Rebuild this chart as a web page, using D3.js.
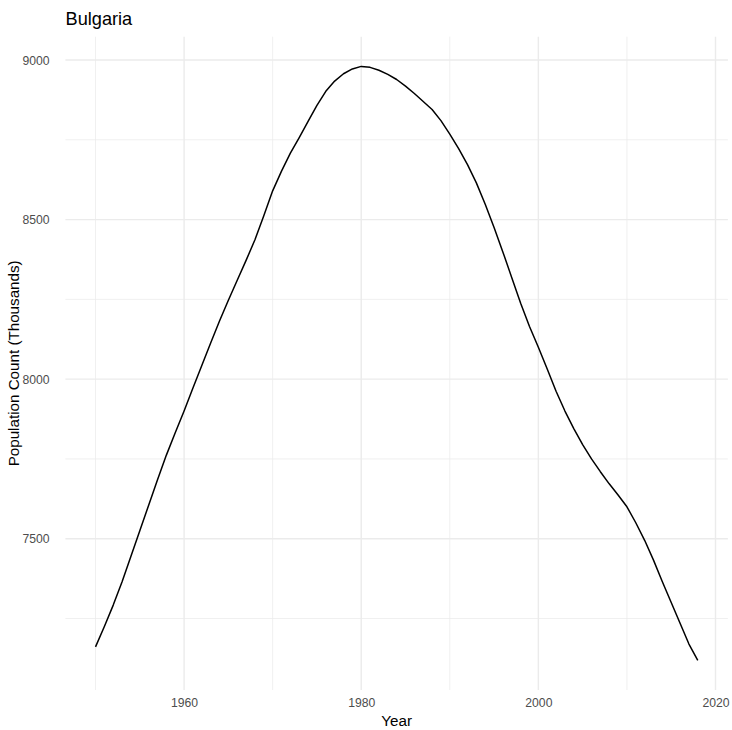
<!DOCTYPE html>
<html>
<head>
<meta charset="utf-8">
<script src="https://cdn.jsdelivr.net/npm/d3@7"></script>
<style>
  body { margin: 0; background: #fff; }
  svg { display: block; font-family: "Liberation Sans", Arial, Helvetica, sans-serif; }
</style>
</head>
<body>
<svg id="chart" width="732" height="730"></svg>
<script>
const title = "Bulgaria";
const xLabel = "Year";
const yLabel = "Population Count (Thousands)";

const years = d3.range(1950, 2019);
const population = [
  7161, 7225, 7292, 7365, 7445, 7525, 7605, 7685, 7762, 7832,
  7900, 7972, 8043, 8113, 8182, 8247, 8310, 8372, 8437, 8512,
  8590, 8652, 8708, 8757, 8808, 8858, 8902, 8934, 8957, 8972,
  8980, 8977, 8968, 8955, 8939, 8918, 8895, 8870, 8845, 8810,
  8768, 8722, 8672, 8615, 8548, 8475, 8398, 8318, 8238, 8165,
  8100, 8032, 7962, 7900, 7845, 7795, 7750, 7710, 7672, 7637,
  7600, 7550, 7495, 7433, 7365, 7300, 7235, 7170, 7119
];

const xTicks = [1960, 1980, 2000, 2020];
const xMinor = [1950, 1970, 1990, 2010];
const yTicks = [7500, 8000, 8500, 9000];
const yMinor = [7250, 7750, 8250, 8750];

(function () {
const data = years.map((yr, i) => ({ year: yr, value: population[i] }));

const svg = d3.select("#chart");
const pLeft = 65.4, pRight = 727.9, pTop = 36.7, pBottom = 690;

const xExt = d3.extent(years);
const xPad = (xExt[1] - xExt[0]) * 0.05;
const x = d3.scaleLinear().domain([xExt[0] - xPad, xExt[1] + xPad]).range([pLeft, pRight]);

const yExt = d3.extent(population);
const yPad = (yExt[1] - yExt[0]) * 0.05;
const y = d3.scaleLinear().domain([yExt[0] - yPad, yExt[1] + yPad]).range([pBottom, pTop]);

const grid = svg.append("g");
grid.selectAll("line.ymin").data(yMinor).enter().append("line")
  .attr("x1", pLeft).attr("x2", pRight)
  .attr("y1", d => y(d)).attr("y2", d => y(d))
  .attr("stroke", "#EBEBEB").attr("stroke-width", 0.75);
grid.selectAll("line.xmin").data(xMinor).enter().append("line")
  .attr("y1", pTop).attr("y2", pBottom)
  .attr("x1", d => x(d)).attr("x2", d => x(d))
  .attr("stroke", "#EBEBEB").attr("stroke-width", 0.75);
grid.selectAll("line.ymaj").data(yTicks).enter().append("line")
  .attr("x1", pLeft).attr("x2", pRight)
  .attr("y1", d => y(d)).attr("y2", d => y(d))
  .attr("stroke", "#EBEBEB").attr("stroke-width", 1.4);
grid.selectAll("line.xmaj").data(xTicks).enter().append("line")
  .attr("y1", pTop).attr("y2", pBottom)
  .attr("x1", d => x(d)).attr("x2", d => x(d))
  .attr("stroke", "#EBEBEB").attr("stroke-width", 1.4);

const xAxis = d3.axisBottom(x).tickValues(xTicks).tickSize(0).tickPadding(0).tickFormat(d3.format("d"));
const gx = svg.append("g").attr("transform", `translate(0,${pBottom})`).call(xAxis);
gx.select(".domain").remove();
gx.selectAll("text").attr("fill", "#4D4D4D").attr("font-size", 12.2)
  .attr("font-family", "Liberation Sans, Arial, sans-serif")
  .attr("dy", null).attr("y", 17);

const yAxis = d3.axisLeft(y).tickValues(yTicks).tickSize(0).tickPadding(0).tickFormat(d3.format("d"));
const gy = svg.append("g").attr("transform", `translate(49.5,0)`).call(yAxis);
gy.select(".domain").remove();
gy.selectAll("text").attr("fill", "#4D4D4D").attr("font-size", 12.2)
  .attr("font-family", "Liberation Sans, Arial, sans-serif")
  .attr("x", 0).attr("dy", "0.35em");

const line = d3.line().x(d => x(d.year)).y(d => y(d.value)).curve(d3.curveLinear);
svg.append("path").datum(data)
  .attr("d", line)
  .attr("fill", "none")
  .attr("stroke", "#000")
  .attr("stroke-width", 1.5)
  .attr("stroke-linejoin", "round");

svg.append("text").attr("x", 65.5).attr("y", 25)
  .attr("font-size", 18.2).attr("fill", "#000").text(title);

svg.append("text").attr("x", (pLeft + pRight) / 2).attr("y", 726)
  .attr("text-anchor", "middle").attr("font-size", 15.2).attr("fill", "#000").text(xLabel);

svg.append("text")
  .attr("transform", `translate(19,${(pTop + pBottom) / 2}) rotate(-90)`)
  .attr("text-anchor", "middle").attr("font-size", 15.2).attr("fill", "#000").text(yLabel);
})();
</script>
</body>
</html>
